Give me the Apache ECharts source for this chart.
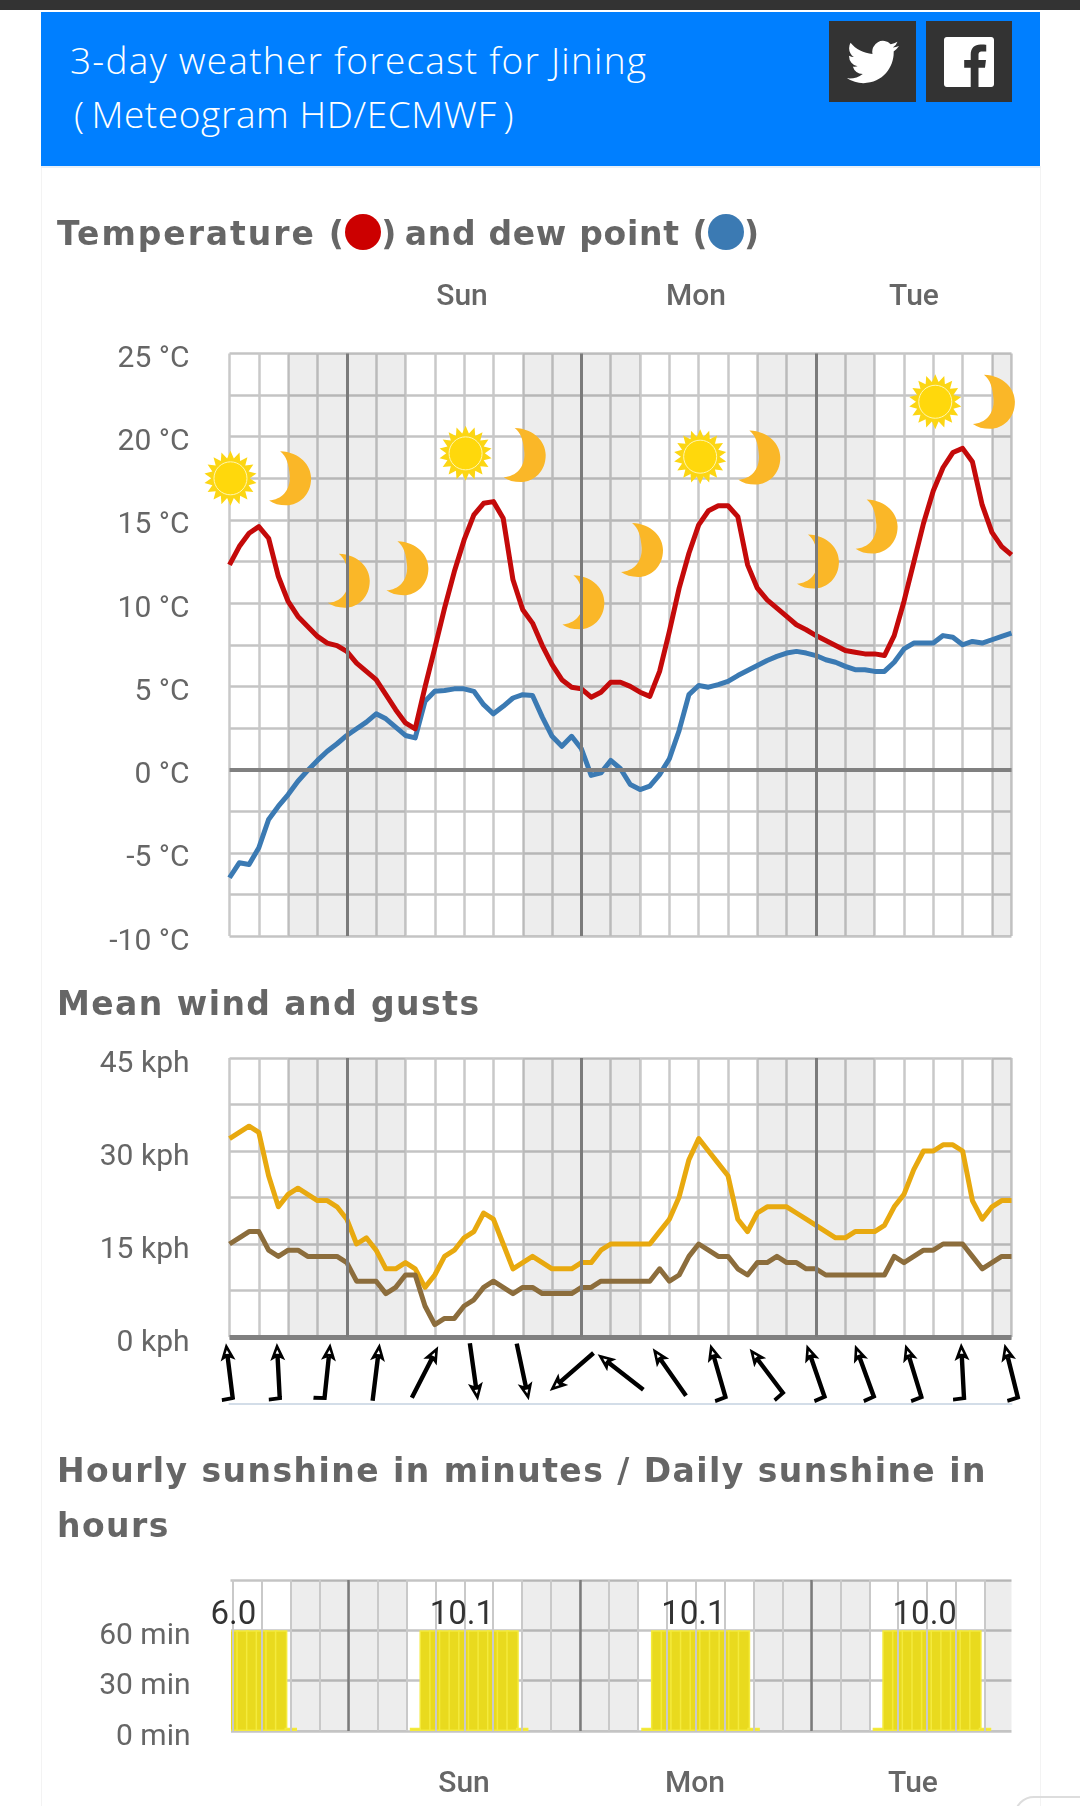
<!DOCTYPE html>
<html>
<head>
<meta charset="utf-8">
<title>3-day weather forecast for Jining</title>
<script src="https://cdn.jsdelivr.net/npm/echarts@6/dist/echarts.min.js"></script>
<style>
  html, body { margin: 0; padding: 0; background: #fff; }
  #page { position: relative; width: 1080px; height: 1806px; overflow: hidden; font-family: Roboto, sans-serif; }
  #chart { position: absolute; left: 0; top: 0; width: 1080px; height: 1806px; }
  .abs { position: absolute; white-space: nowrap; }
  .topbar { left: 0; top: 0; width: 1080px; height: 10px; background: #333; }
  .edge { top: 166px; width: 1px; height: 1640px; background: #f3f3f3; }
  .header { left: 41px; top: 12px; width: 999px; height: 156px; background: #007fff; border-bottom: 2px solid #e8f0f8; box-sizing: border-box; }
  .head-line { color: #fff; font-family: "Open Sans", sans-serif; font-weight: 300; font-size: 37px; line-height: 40px; letter-spacing: 1.25px; }
  .btn { top: 21px; width: 87px; height: 81px; background: #333; display: flex; align-items: center; justify-content: center; }
  .heading { left: 57px; color: #666; font-family: "DejaVu Sans", sans-serif; font-weight: bold; font-size: 33px; line-height: 40px; letter-spacing: 1.45px; }
  .dot { display: inline-block; width: 36px; height: 36px; border-radius: 50%; vertical-align: -5px; }
  .day { color: #666; font-size: 30px; font-weight: 500; line-height: 32px; transform: translateX(-50%); }
  .corner { left: 1014px; top: 1796px; width: 90px; height: 40px; border: 2px solid #ddd; border-radius: 22px; box-sizing: border-box; }
  .bar-mask { left: 222px; top: 1625px; width: 8.5px; height: 112px; background: #fff; }
</style>
</head>
<body>
<div id="page">
  <div id="chart"></div>
  <div class="abs bar-mask"></div>
  <div class="abs topbar"></div>
  <div class="abs edge" style="left:41px"></div>
  <div class="abs edge" style="left:1040px"></div>
  <div class="abs header"></div>
  <div class="abs head-line" style="left:70px;top:40px">3-day weather forecast for Jining</div>
  <div class="abs head-line" style="left:74px;top:94px;letter-spacing:0.6px">(&#8201;Meteogram HD/ECMWF&#8201;)</div>
  <div class="abs btn" style="left:829px">
    <svg width="52" height="44" viewBox="0 0 24 20"><path fill="#fff" transform="translate(0,-2)" d="M23.953 4.57a10 10 0 01-2.825.775 4.958 4.958 0 002.163-2.723c-.951.555-2.005.959-3.127 1.184a4.92 4.92 0 00-8.384 4.482C7.69 8.095 4.067 6.13 1.64 3.162a4.822 4.822 0 00-.666 2.475c0 1.71.87 3.213 2.188 4.096a4.904 4.904 0 01-2.228-.616v.06a4.923 4.923 0 003.946 4.827 4.996 4.996 0 01-2.212.085 4.936 4.936 0 004.604 3.417 9.867 9.867 0 01-6.102 2.105c-.39 0-.779-.023-1.17-.067a13.995 13.995 0 007.557 2.209c9.053 0 13.998-7.496 13.998-13.985 0-.21 0-.42-.015-.63A9.935 9.935 0 0024 4.59z"/></svg>
  </div>
  <div class="abs btn" style="left:926px;width:86px">
    <svg width="50" height="50" viewBox="0 0 24 24"><path fill="#fff" d="M22.675 0H1.325C.593 0 0 .593 0 1.325v21.351C0 23.407.593 24 1.325 24H12.82v-9.294H9.692v-3.622h3.128V8.413c0-3.1 1.893-4.788 4.659-4.788 1.325 0 2.463.099 2.795.143v3.24l-1.918.001c-1.504 0-1.795.715-1.795 1.763v2.313h3.587l-.467 3.622h-3.12V24h6.116c.73 0 1.323-.593 1.323-1.325V1.325C24 .593 23.407 0 22.675 0z"/></svg>
  </div>
  <div class="abs heading" style="top:214px"><span style="letter-spacing:1.95px">Temperature</span> (<span class="dot" style="background:#cc0000"></span>) <span style="letter-spacing:0.7px;margin-left:-6px">and dew point</span> (<span class="dot" style="background:#3b7ab3;margin-left:-1px"></span>)</div>
  <div class="abs heading" style="top:984px">Mean wind and gusts</div>
  <div class="abs heading" style="top:1451px">Hourly sunshine in minutes / Daily sunshine in</div>
  <div class="abs heading" style="top:1506px">hours</div>
  <div class="abs day" style="left:462px;top:279px">Sun</div>
  <div class="abs day" style="left:696px;top:279px">Mon</div>
  <div class="abs day" style="left:914px;top:279px">Tue</div>
  <div class="abs day" style="left:464px;top:1766px">Sun</div>
  <div class="abs day" style="left:695px;top:1766px">Mon</div>
  <div class="abs day" style="left:913px;top:1766px">Tue</div>
  <div class="abs corner"></div>
</div>

<script>
// hourly values, hour 0 = Saturday 12:00
const temperature = [12.3, 13.4, 14.2, 14.6, 13.9, 11.6, 10.1, 9.2, 8.6, 8.0, 7.6, 7.45, 7.1, 6.4, 5.9, 5.4, 4.5, 3.6, 2.8, 2.45,
  4.95, 7.3, 9.7, 11.9, 13.8, 15.3, 16.0, 16.1, 15.1, 11.4, 9.6, 8.8, 7.45, 6.3, 5.4, 4.95, 4.85, 4.35, 4.65, 5.25,
  5.25, 5.0, 4.65, 4.4, 5.9, 8.3, 10.9, 13.0, 14.7, 15.55, 15.85, 15.85, 15.2, 12.3, 10.9, 10.2, 9.7, 9.2, 8.7, 8.4,
  8.05, 7.75, 7.45, 7.15, 7.05, 6.95, 6.95, 6.85, 8.05, 10.1, 12.45, 14.8, 16.75, 18.15, 19.05, 19.3, 18.5, 15.9, 14.25, 13.4, 12.9];
const dewPoint = [-6.5, -5.6, -5.7, -4.7, -3.0, -2.2, -1.5, -0.7, -0.05, 0.55, 1.1, 1.55, 2.05, 2.45, 2.85, 3.35, 3.05, 2.55, 2.05, 1.9,
  4.1, 4.7, 4.75, 4.85, 4.85, 4.7, 3.9, 3.35, 3.8, 4.3, 4.5, 4.45, 3.15, 2.0, 1.4, 2.0, 1.25, -0.35, -0.2, 0.55,
  0.05, -0.9, -1.2, -1.0, -0.3, 0.65, 2.35, 4.5, 5.05, 4.95, 5.1, 5.3, 5.65, 5.95, 6.25, 6.55, 6.8, 7.0, 7.1, 7.0,
  6.85, 6.6, 6.45, 6.2, 6.0, 6.0, 5.9, 5.9, 6.45, 7.25, 7.6, 7.6, 7.6, 8.05, 7.95, 7.5, 7.7, 7.6, 7.8, 8.0, 8.2];
const gusts = [32, 33, 34, 33, 26, 21, 23, 24, 23, 22, 22, 21, 19, 15, 16, 14, 11, 11, 12, 11,
  8, 10, 13, 14, 16, 17, 20, 19, 15, 11, 12, 13, 12, 11, 11, 11, 12, 12, 14, 15,
  15, 15, 15, 15, 17, 19, 22.6, 28.6, 32, 30, 28, 26, 19, 17, 20, 21, 21, 21, 20, 19,
  18, 17, 16, 16, 17, 17, 17, 18, 21, 23, 27, 30, 30, 31, 31, 30, 22, 19, 21, 22, 22];
const meanWind = [15, 16, 17, 17, 14, 13, 14, 14, 13, 13, 13, 13, 12, 9, 9, 9, 7, 8, 10, 10,
  5, 2, 3, 3, 5, 6, 8, 9, 8, 7, 8, 8, 7, 7, 7, 7, 8, 8, 9, 9,
  9, 9, 9, 9, 11, 9, 10, 13, 15, 14, 13, 13, 11, 10, 12, 12, 13, 12, 12, 11,
  11, 10, 10, 10, 10, 10, 10, 10, 13, 12, 13, 14, 14, 15, 15, 15, 13, 11, 12, 13, 13];
const sunshine = [60, 60, 60, 60, 60, 60, 2, 0, 0, 0, 0, 0, 0, 0, 0, 0, 0, 0, 0, 2,
  60, 60, 60, 60, 60, 60, 60, 60, 60, 60, 2, 0, 0, 0, 0, 0, 0, 0, 0, 0,
  0, 0, 0, 2, 60, 60, 60, 60, 60, 60, 60, 60, 60, 60, 2, 0, 0, 0, 0, 0,
  0, 0, 0, 0, 0, 0, 0, 2, 60, 60, 60, 60, 60, 60, 60, 60, 60, 60, 2, 0, 0];

const dailySunHours = [0.05, 23.75, 47.75, 71.75];
const dailySunshine = ["6.0", "10.1", "10.1", "10.0"];

// wind arrows: hour, tilt from north in degrees (clockwise), barb or not
const arrowHours = [0, 5, 10, 15, 20, 25, 30, 35, 40, 45, 50, 55, 60, 65, 70, 75, 80];
const arrowTilt = [-7, -3, 6, 7, 27, 172, 168, 229, -52, -35, -16, -37, -19, -20, -17, -3, -14];
const arrowBarb = [1, 1, 1, 0, 0, 0, 0, 0, 0, 0, 1, 1, 1, 1, 1, 1, 1];

// day / night pictos sit on the temperature scale
const sunHours = [0.1, 24.15, 48.15, 72.2];
const sunTemps = [17.5, 19, 18.8, 22.1];
const moonHours = [6.2, 12.2, 18.2, 30.2, 36.2, 42.2, 54.2, 60.2, 66.2, 78.2];
const moonTemps = [17.5, 11.35, 12.1, 18.9, 10.05, 13.2, 18.75, 12.5, 14.6, 22.1];

const midnights = [12, 36, 60];
const nightStart = [6, 30, 54, 78];
const nightEnd = [18, 42, 66, 80];

const gridColor = "#c9c9c9";
const darkLine = "#808080";
const nightFill = "rgba(0,0,0,0.07)";

const moonPath = "path://M32 0C90 2 122 35 122 67C122 108 88 134 50 134C30 134 12 130 0 122C36 120 62 98 60 62C58 32 50 12 32 0Z";
const arrowHead = "M0 -29L7.5 -11L0 -15L-7.5 -11ZM0 -22L-1.8 -18L1.8 -18Z";
const arrowShaft = "M-2.2 -15L2.2 -15L2.2 29L-2.2 29Z";
const arrowPlain = "path://" + arrowHead + arrowShaft + "M-12 29L-12 29M12 -29L12 -29";
const arrowWithBarb = "path://" + arrowHead + arrowShaft + "M2.2 25.5L2.2 29.5L-11 30.5L-11 26.5ZM-12 29L-12 29M12 -29L12 -29";

function sunPath() {
  let d = "path://";
  const rays = 18;
  for (let i = 0; i < rays * 2; i++) {
    const r = i % 2 ? 19 : 26;
    const a = (i * Math.PI) / rays - Math.PI / 2;
    d += (i ? "L" : "M") + (r * Math.cos(a)).toFixed(2) + " " + (r * Math.sin(a)).toFixed(2);
  }
  return d + "Z";
}

function helperSeries(gridIndex, bandEnd, midnightWidth, extraLines) {
  return {
    type: "line",
    xAxisIndex: gridIndex,
    yAxisIndex: gridIndex,
    data: [],
    silent: true,
    z: 1,
    markArea: {
      silent: true,
      itemStyle: { color: nightFill },
      data: nightStart.map((s, i) => [{ xAxis: s }, { xAxis: bandEnd(nightEnd[i]) }])
    },
    markLine: {
      silent: true,
      symbol: "none",
      label: { show: false },
      animation: false,
      data: extraLines.concat(
        midnights.map((h) => ({ xAxis: h, lineStyle: { color: "#7b7b7b", width: midnightWidth, type: "solid" } }))
      )
    }
  };
}

function lineSeries(gridIndex, name, values, color) {
  return {
    name: name,
    type: "line",
    xAxisIndex: gridIndex,
    yAxisIndex: gridIndex,
    data: values.map((v, i) => [i, v]),
    showSymbol: false,
    z: 3,
    lineStyle: { color: color, width: 5, join: "round" },
    itemStyle: { color: color }
  };
}

function hourAxis(gridIndex) {
  return {
    type: "value",
    gridIndex: gridIndex,
    min: 0,
    max: 80,
    interval: 3,
    axisLine: { show: false },
    axisTick: { show: false },
    axisLabel: { show: false },
    splitLine: { show: true, lineStyle: { color: gridColor, width: 2.5 } }
  };
}

// labels sit a bit under their grid line: an empty first text line pushes them down
function valueAxis(gridIndex, min, max, interval, formatter) {
  return {
    type: "value",
    gridIndex: gridIndex,
    min: min,
    max: max,
    interval: interval,
    axisLine: { show: false },
    axisTick: { show: false },
    axisLabel: {
      color: "#666",
      fontFamily: "Roboto",
      fontSize: 30,
      margin: 40,
      lineHeight: 12,
      formatter: (v) => "\n" + formatter(v)
    },
    splitLine: { show: true, lineStyle: { color: "#c4c4c4", width: 2.5 } }
  };
}

const everyHour = [];
sunshine.forEach((v, i) => { if (i % 3 === 0) everyHour.push(i); });

const chart = echarts.init(document.getElementById("chart"), null, { renderer: "canvas" });

chart.setOption({
  animation: false,
  backgroundColor: "transparent",
  grid: [
    { left: 229.5, top: 353.5, width: 782, height: 582.5 },
    { left: 229.5, top: 1058, width: 782, height: 279 },
    { left: 229.5, top: 1340, width: 782, height: 64 },
    { left: 230.5, top: 1580, width: 781, height: 151 }
  ],
  xAxis: [
    hourAxis(0),
    hourAxis(1),
    {
      type: "value",
      gridIndex: 2,
      min: 0,
      max: 80,
      axisLine: { show: true, onZero: false, lineStyle: { color: "#d3dde8", width: 2 } },
      axisTick: { show: false },
      axisLabel: { show: false },
      splitLine: { show: false }
    },
    {
      type: "value",
      gridIndex: 3,
      min: -0.25,
      max: 80.75,
      axisLine: { show: false },
      axisTick: { show: false },
      axisLabel: { show: false },
      splitLine: { show: false }
    }
  ],
  yAxis: [
    valueAxis(0, -10, 25, 2.5, (v) => (v % 5 === 0 ? v + " °C" : "")),
    valueAxis(1, 0, 45, 7.5, (v) => (v % 15 === 0 ? v + " kph" : "")),
    { type: "value", gridIndex: 2, min: 0, max: 1, show: false },
    valueAxis(3, 0, 90, 30, (v) => (v === 90 ? "" : v + " min"))
  ],
  series: [
    helperSeries(0, (h) => h, 3, [{ yAxis: 0, lineStyle: { color: darkLine, width: 4, type: "solid" } }]),
    lineSeries(0, "Dew point", dewPoint, "#3b7ab3"),
    lineSeries(0, "Temperature", temperature, "#c40a0a"),
    {
      type: "scatter",
      xAxisIndex: 0,
      yAxisIndex: 0,
      clip: false,
      z: 4,
      symbol: moonPath,
      symbolSize: [42, 54],
      itemStyle: { color: "#fab728", opacity: 1 },
      data: moonHours.map((h, i) => [h, moonTemps[i]])
    },
    {
      type: "scatter",
      xAxisIndex: 0,
      yAxisIndex: 0,
      clip: false,
      z: 4,
      symbol: sunPath(),
      symbolSize: [52, 55],
      itemStyle: { color: "#fcd613", opacity: 1 },
      data: sunHours.map((h, i) => [h, sunTemps[i]])
    },
    {
      type: "scatter",
      xAxisIndex: 0,
      yAxisIndex: 0,
      clip: false,
      z: 5,
      symbol: "circle",
      symbolSize: 33,
      itemStyle: { color: "#ffd80c", borderColor: "#fff6b0", borderWidth: 1, opacity: 1 },
      data: sunHours.map((h, i) => [h, sunTemps[i]])
    },

    helperSeries(1, (h) => h, 3, [{ yAxis: 0, lineStyle: { color: darkLine, width: 5, type: "solid" } }]),
    lineSeries(1, "Gusts", gusts, "#e8a90f"),
    lineSeries(1, "Mean wind", meanWind, "#8c6d3c"),

    {
      type: "scatter",
      xAxisIndex: 2,
      yAxisIndex: 2,
      clip: false,
      z: 4,
      symbol: (val) => (val[3] ? arrowWithBarb : arrowPlain),
      symbolSize: [24, 58],
      symbolRotate: (val) => -val[2],
      itemStyle: { color: "#000", opacity: 1 },
      data: arrowHours.map((h, i) => [h, 0.5, arrowTilt[i], arrowBarb[i]])
    },

    helperSeries(3, (h) => (h === 80 ? 80.75 : h), 2.5,
      everyHour.map((h) => ({ xAxis: h, lineStyle: { color: gridColor, width: 2, type: "solid" } }))),
    {
      type: "bar",
      xAxisIndex: 3,
      yAxisIndex: 3,
      z: 3,
      clip: true,
      barWidth: "130%",
      itemStyle: { color: "#e9da1e", borderColor: "#f4ea3c", borderWidth: 1.5 },
      data: sunshine.map((v, i) => [i, v]).filter((d) => d[1] > 0)
    },
    {
      type: "scatter",
      xAxisIndex: 3,
      yAxisIndex: 3,
      clip: false,
      z: 6,
      symbolSize: 0,
      label: {
        show: true,
        position: "inside",
        color: "#000",
        fontFamily: "Roboto",
        fontSize: 33,
        formatter: (p) => dailySunshine[p.dataIndex]
      },
      data: dailySunHours.map((h) => [h, 68.5])
    }
  ]
});
</script>
</body>
</html>
